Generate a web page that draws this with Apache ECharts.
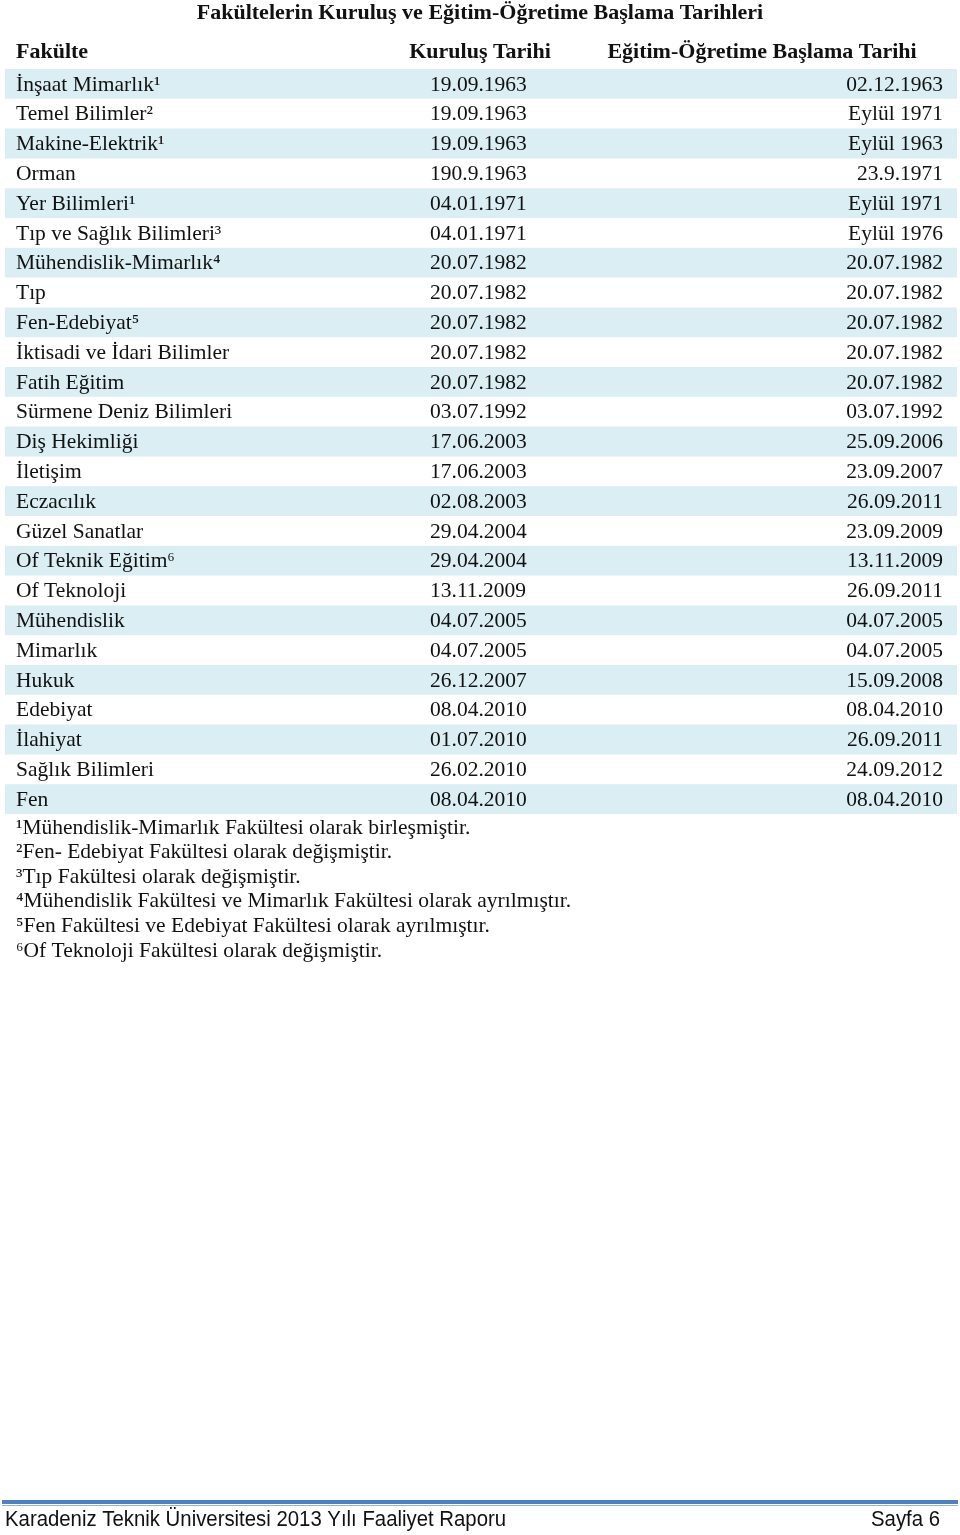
<!DOCTYPE html>
<html><head><meta charset="utf-8">
<script src="https://cdn.jsdelivr.net/npm/echarts@6/dist/echarts.min.js"></script>
<style>html,body{margin:0;padding:0;background:#fff}#c{width:960px;height:1535px}</style>
</head><body><div id="c"></div>
<script>
const titleText = 'Fakültelerin Kuruluş ve Eğitim-Öğretime Başlama Tarihleri';
const headers = ['Fakülte', 'Kuruluş Tarihi', 'Eğitim-Öğretime Başlama Tarihi'];
const faculties = ['İnşaat Mimarlık¹','Temel Bilimler²','Makine-Elektrik¹','Orman','Yer Bilimleri¹','Tıp ve Sağlık Bilimleri³','Mühendislik-Mimarlık⁴','Tıp','Fen-Edebiyat⁵','İktisadi ve İdari Bilimler','Fatih Eğitim','Sürmene Deniz Bilimleri','Diş Hekimliği','İletişim','Eczacılık','Güzel Sanatlar','Of Teknik Eğitim⁶','Of Teknoloji','Mühendislik','Mimarlık','Hukuk','Edebiyat','İlahiyat','Sağlık Bilimleri','Fen'];
const kurulus = ['19.09.1963','19.09.1963','19.09.1963','190.9.1963','04.01.1971','04.01.1971','20.07.1982','20.07.1982','20.07.1982','20.07.1982','20.07.1982','03.07.1992','17.06.2003','17.06.2003','02.08.2003','29.04.2004','29.04.2004','13.11.2009','04.07.2005','04.07.2005','26.12.2007','08.04.2010','01.07.2010','26.02.2010','08.04.2010'];
const baslama = ['02.12.1963','Eylül 1971','Eylül 1963','23.9.1971','Eylül 1971','Eylül 1976','20.07.1982','20.07.1982','20.07.1982','20.07.1982','20.07.1982','03.07.1992','25.09.2006','23.09.2007','26.09.2011','23.09.2009','13.11.2009','26.09.2011','04.07.2005','04.07.2005','15.09.2008','08.04.2010','26.09.2011','24.09.2012','08.04.2010'];
const footnotes = ['¹Mühendislik-Mimarlık Fakültesi olarak birleşmiştir.','²Fen- Edebiyat Fakültesi olarak değişmiştir.','³Tıp Fakültesi olarak değişmiştir.','⁴Mühendislik Fakültesi ve Mimarlık Fakültesi olarak ayrılmıştır.','⁵Fen Fakültesi ve Edebiyat Fakültesi olarak ayrılmıştır.','⁶Of Teknoloji Fakültesi olarak değişmiştir.'];
const footerLeft = 'Karadeniz Teknik Üniversitesi 2013 Yılı Faaliyet Raporu';
const footerRight = 'Sayfa 6';

const SERIF = '"Liberation Serif", "DejaVu Serif", serif';
const SANS = '"Liberation Sans", sans-serif';
const BAND = '#DAEEF3';
const INK = '#111';
const BODY_FONT = '21.5px ' + SERIF;
const HEAD_FONT = 'bold 22px ' + SERIF;

const chart = echarts.init(document.getElementById('c'), null, {renderer: 'canvas'});

const rows = faculties.map((f, i) => [0.5, i]);

const graphics = [
  {type: 'text', x: 480, y: 13, style: {text: titleText, font: HEAD_FONT, fill: INK, align: 'center', verticalAlign: 'middle'}},
  {type: 'text', x: 16, y: 52, style: {text: headers[0], font: HEAD_FONT, fill: INK, verticalAlign: 'middle'}},
  {type: 'text', x: 480, y: 52, style: {text: headers[1], font: HEAD_FONT, fill: INK, align: 'center', verticalAlign: 'middle'}},
  {type: 'text', x: 762, y: 52, style: {text: headers[2], font: HEAD_FONT, fill: INK, align: 'center', verticalAlign: 'middle'}},
  {type: 'rect', shape: {x: 2, y: 1500, width: 956, height: 4}, style: {fill: '#4F81BD'}},
  {type: 'rect', shape: {x: 2, y: 1505, width: 956, height: 1}, style: {fill: '#95B3D7'}},
  {type: 'text', x: 5, y: 1520, scaleX: 0.925, style: {text: footerLeft, font: '22px ' + SANS, fill: INK, verticalAlign: 'middle'}},
  {type: 'text', x: 940, y: 1520, scaleX: 0.925, style: {text: footerRight, font: '22px ' + SANS, fill: INK, align: 'right', verticalAlign: 'middle'}}
];
footnotes.forEach((t, i) => {
  graphics.push({type: 'text', x: 16, y: 828 + i * 24.6, style: {text: t, font: BODY_FONT, fill: INK, verticalAlign: 'middle'}});
});

chart.setOption({
  animation: false,
  grid: {left: 5, right: 3, top: 69, height: 745},
  xAxis: {type: 'value', min: 0, max: 1, show: false},
  yAxis: {type: 'category', data: faculties, inverse: true, show: false},
  graphic: graphics,
  series: [{
    type: 'custom',
    data: rows,
    encode: {x: 0, y: 1},
    renderItem: function (params, api) {
      const i = api.value(1);
      const cs = params.coordSys;
      const yc = api.coord([0, i])[1];
      const h = api.size([0, 1])[1];
      const children = [];
      if (i % 2 === 0) {
        children.push({type: 'rect', shape: {x: cs.x, y: yc - h / 2, width: cs.width, height: h}, style: {fill: BAND}});
      }
      children.push({type: 'text', x: cs.x + 11, y: yc + 1, style: {text: faculties[i], font: BODY_FONT, fill: INK, verticalAlign: 'middle'}});
      children.push({type: 'text', x: cs.x + 425, y: yc + 1, style: {text: kurulus[i], font: BODY_FONT, fill: INK, verticalAlign: 'middle'}});
      children.push({type: 'text', x: cs.x + cs.width - 14, y: yc + 1, style: {text: baslama[i], font: BODY_FONT, fill: INK, align: 'right', verticalAlign: 'middle'}});
      return {type: 'group', children: children};
    }
  }]
});
</script>
</body></html>
